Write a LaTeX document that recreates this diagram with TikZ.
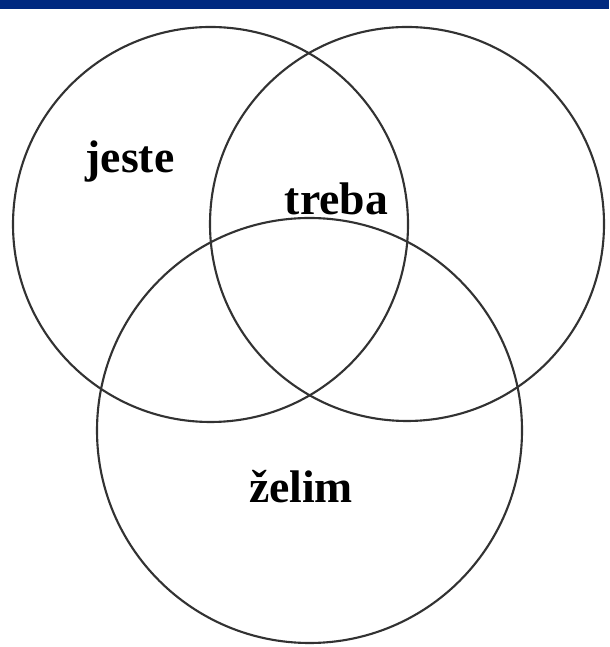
\documentclass[tikz,border=0pt]{standalone}
\usepackage{fontspec}
\setmainfont{Liberation Serif}
\usetikzlibrary{positioning}
\definecolor{bandblue}{RGB}{0,41,128}
\definecolor{ringgray}{RGB}{50,50,50}
\tikzset{
  ring/.style={circle, draw=ringgray, line width=1.2pt, inner sep=0pt, outer sep=0pt},
  setlbl/.style={anchor=base, inner sep=0pt, font=\bfseries\fontsize{26}{30}\selectfont},
}

\begin{document}
\begin{tikzpicture}
    % Frame and top band
    \useasboundingbox (0,0) rectangle (12.18,12.94);
    \fill[white] (0,0) rectangle (12.18,12.94);
    \fill[bandblue] (0,12.76) rectangle (12.18,12.94);
    % The three sets
    \node[ring, minimum size=7.90cm] (jesteset) at (4.21,8.45) {};
    \node[ring, minimum size=7.88cm] (trebaset) at (8.14,8.46) {};
    \node[ring, minimum size=8.50cm] (zelimset) at (6.19,4.33) {};
    % Labels
    \node[setlbl] (jeste) at (2.60,9.48) {jeste};
    \node[setlbl] (treba) at (6.73,8.64) {treba};
    \node[setlbl] (zelim) at (6.02,2.88) {želim};
\end{tikzpicture}
\end{document}
